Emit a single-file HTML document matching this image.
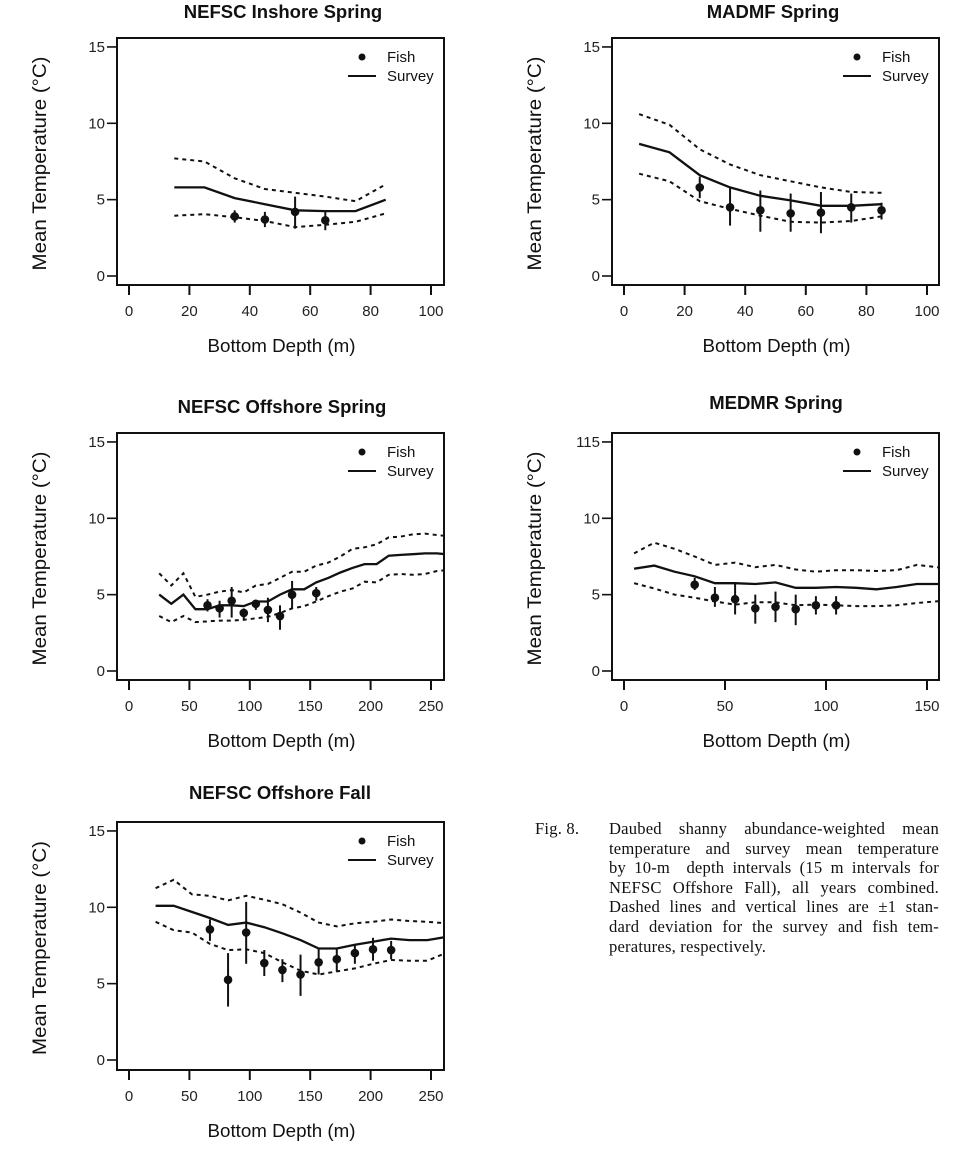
<!DOCTYPE html>
<html><head><meta charset="utf-8">
<style>
body{margin:0;background:#fff;width:975px;height:1163px;overflow:hidden;position:relative;font-family:"Liberation Sans",sans-serif}
svg{position:absolute;left:0;top:0}
.cap{position:absolute;font-family:"Liberation Serif",serif;font-size:16.6px;color:#111;line-height:19.6px;letter-spacing:0.2px}
.cap div{text-align:justify;text-align-last:justify;white-space:nowrap}
</style></head><body>
<svg id="s" width="975" height="1163" xmlns="http://www.w3.org/2000/svg"></svg>
<div class="cap" style="left:535px;top:819px">Fig. 8.</div>
<div class="cap" style="left:609px;top:819px;width:330px">
<div>Daubed shanny abundance-weighted mean</div>
<div>temperature and survey mean temperature</div>
<div>by 10-m&nbsp; depth intervals (15 m intervals for</div>
<div>NEFSC Offshore Fall), all years combined.</div>
<div>Dashed lines and vertical lines are ±1 stan-</div>
<div>dard deviation for the survey and fish tem-</div>
<div style="text-align-last:left">peratures, respectively.</div>
</div>
<script>
var svg=document.getElementById('s'),h='';
function P(c){
 var bx=c.bx,by=c.by,x0=c.x0,xs=c.xs,y0=c.y0,ys=c.ys;
 function X(v){return x0+v*xs} function Y(v){return y0-v*ys}
 h+='<rect x="'+bx[0]+'" y="'+by[0]+'" width="'+(bx[1]-bx[0])+'" height="'+(by[1]-by[0])+'" fill="none" stroke="#111" stroke-width="2"/>';
 h+='<text x="'+c.tx+'" y="'+c.ty+'" font-size="18.5" font-weight="bold" text-anchor="middle" fill="#111">'+c.title+'</text>';
 c.xt.forEach(function(t){var x=X(t);h+='<line x1="'+x+'" y1="'+by[1]+'" x2="'+x+'" y2="'+(by[1]+10)+'" stroke="#111" stroke-width="2"/><text x="'+x+'" y="'+(by[1]+31)+'" font-size="15" text-anchor="middle" fill="#222">'+t+'</text>'});
 [0,5,10,15].forEach(function(t,i){var y=Y(t);h+='<line x1="'+(bx[0]-10)+'" y1="'+y+'" x2="'+bx[0]+'" y2="'+y+'" stroke="#111" stroke-width="1.6"/><text x="'+(bx[0]-12)+'" y="'+(y+5)+'" font-size="15" text-anchor="end" fill="#222">'+(i==3&&c.y115?'115':t)+'</text>'});
 var my=(by[0]+by[1])/2;
 h+='<text transform="translate('+(bx[0]-71)+','+(my+2)+') rotate(-90)" font-size="19" text-anchor="middle" fill="#111" textLength="214" lengthAdjust="spacingAndGlyphs">Mean Temperature (°C)</text>';
 h+='<text x="'+((bx[0]+bx[1])/2+1)+'" y="'+(by[1]+67)+'" font-size="18.5" text-anchor="middle" fill="#111" textLength="148" lengthAdjust="spacingAndGlyphs">Bottom Depth (m)</text>';
 h+='<defs><clipPath id="c'+c.id+'"><rect x="'+bx[0]+'" y="'+by[0]+'" width="'+(bx[1]-bx[0])+'" height="'+(by[1]-by[0])+'"/></clipPath></defs><g clip-path="url(#c'+c.id+')">';
 function pl(a,st){var p=[];for(var i=0;i<a.length;i+=2)p.push(X(a[i]).toFixed(1)+','+Y(a[i+1]).toFixed(1));h+='<polyline points="'+p.join(' ')+'" fill="none" stroke="#111" '+st+'/>'}
 pl(c.s,'stroke-width="2.3"');pl(c.u,'stroke-width="2" stroke-dasharray="4 4"');pl(c.l,'stroke-width="2" stroke-dasharray="4 4"');
 c.f.forEach(function(f){var x=X(f[0]);h+='<line x1="'+x+'" y1="'+Y(f[2])+'" x2="'+x+'" y2="'+Y(f[3])+'" stroke="#111" stroke-width="2"/><circle cx="'+x+'" cy="'+Y(f[1])+'" r="4.3" fill="#111"/>'});
 h+='</g>';
 var lx=bx[1]-82,ly=by[0]+19;
 h+='<circle cx="'+lx+'" cy="'+ly+'" r="3.5" fill="#111"/><text x="'+(lx+25)+'" y="'+(ly+5)+'" font-size="15" fill="#111">Fish</text>';
 h+='<line x1="'+(lx-14)+'" y1="'+(ly+19)+'" x2="'+(lx+14)+'" y2="'+(ly+19)+'" stroke="#111" stroke-width="2"/><text x="'+(lx+25)+'" y="'+(ly+24)+'" font-size="15" fill="#111">Survey</text>';
}
P({id:1,bx:[117,444],by:[38,285],x0:129,xs:3.02,y0:276,ys:15.27,xt:[0,20,40,60,80,100],title:'NEFSC Inshore Spring',tx:283,ty:18,
 s:[15,5.8,25,5.8,35,5.1,45,4.7,55,4.3,65,4.25,75,4.25,85,5.0],
 u:[15,7.7,25,7.5,35,6.4,45,5.7,55,5.45,65,5.2,75,4.9,85,6.0],
 l:[15,3.95,25,4.05,35,3.85,45,3.6,55,3.2,65,3.35,75,3.55,85,4.1],
 f:[[35,3.9,3.5,4.3],[45,3.7,3.2,4.2],[55,4.2,3.1,5.2],[65,3.65,3.0,4.2]]});
P({id:2,bx:[612,939],by:[38,285],x0:624,xs:3.03,y0:276,ys:15.27,xt:[0,20,40,60,80,100],title:'MADMF Spring',tx:773,ty:18,
 s:[5,8.65,15,8.1,25,6.6,35,5.8,45,5.25,55,4.95,65,4.6,75,4.6,85,4.7],
 u:[5,10.6,15,9.9,25,8.3,35,7.3,45,6.6,55,6.2,65,5.8,75,5.5,85,5.45],
 l:[5,6.7,15,6.2,25,4.9,35,4.4,45,3.95,55,3.55,65,3.5,75,3.6,85,3.9],
 f:[[25,5.8,5.1,6.5],[35,4.5,3.3,5.8],[45,4.3,2.9,5.6],[55,4.1,2.9,5.4],[65,4.15,2.8,5.5],[75,4.5,3.5,5.4],[85,4.3,3.7,4.8]]});
P({id:3,bx:[117,444],by:[433,680],x0:129,xs:1.208,y0:671,ys:15.27,xt:[0,50,100,150,200,250],title:'NEFSC Offshore Spring',tx:282,ty:413,
 s:[25,5.0,35,4.4,45,5.0,55,4.05,65,4.05,75,4.3,85,4.3,95,4.25,105,4.55,115,4.55,125,5.0,135,5.35,145,5.35,155,5.8,165,6.1,175,6.45,185,6.75,195,7.0,205,7.0,215,7.55,225,7.6,235,7.65,245,7.7,255,7.7,262,7.65],
 u:[25,6.4,35,5.6,45,6.4,55,4.85,65,5.0,75,5.2,85,5.3,95,5.15,105,5.6,115,5.7,125,6.1,135,6.5,145,6.5,155,6.9,165,7.1,175,7.5,185,8.0,195,8.1,205,8.3,215,8.75,225,8.8,235,8.95,245,9.0,255,8.9,262,8.85],
 l:[25,3.6,35,3.2,45,3.6,55,3.2,65,3.25,75,3.3,85,3.3,95,3.35,105,3.45,115,3.55,125,3.8,135,4.1,145,4.25,155,4.55,165,4.9,175,5.2,185,5.4,195,5.85,205,5.8,215,6.3,225,6.35,235,6.3,245,6.35,255,6.55,262,6.6],
 f:[[65,4.3,3.9,4.7],[75,4.1,3.5,4.6],[85,4.6,3.5,5.5],[95,3.8,3.4,4.1],[105,4.4,4.0,4.6],[115,4.0,3.2,4.8],[125,3.6,2.7,4.3],[135,5.0,4.1,5.9],[155,5.1,4.6,5.5]]});
P({id:4,bx:[612,939],by:[433,680],x0:624,xs:2.02,y0:671,ys:15.27,xt:[0,50,100,150],title:'MEDMR Spring',tx:776,ty:409,y115:1,
 s:[5,6.7,15,6.9,25,6.5,35,6.2,45,5.75,55,5.75,65,5.7,75,5.8,85,5.45,95,5.45,105,5.5,115,5.45,125,5.35,135,5.5,145,5.7,158,5.7],
 u:[5,7.7,15,8.4,25,8.0,35,7.5,45,6.95,55,7.1,65,6.8,75,6.95,85,6.65,95,6.5,105,6.6,115,6.6,125,6.55,135,6.6,145,6.95,158,6.75],
 l:[5,5.75,15,5.4,25,5.0,35,4.8,45,4.55,55,4.35,65,4.5,75,4.5,85,4.3,95,4.35,105,4.3,115,4.25,125,4.25,135,4.3,145,4.45,158,4.6],
 f:[[35,5.65,5.3,6.1],[45,4.8,4.2,5.5],[55,4.7,3.7,5.7],[65,4.1,3.1,5.0],[75,4.2,3.2,5.2],[85,4.05,3.0,5.0],[95,4.3,3.7,4.9],[105,4.3,3.7,4.9]]});
P({id:5,bx:[117,444],by:[822,1070],x0:129,xs:1.208,y0:1060,ys:15.27,xt:[0,50,100,150,200,250],title:'NEFSC Offshore Fall',tx:280,ty:799,
 s:[22,10.1,37,10.1,52,9.7,67,9.3,82,8.85,97,9.0,112,8.7,127,8.3,142,7.85,157,7.3,172,7.3,187,7.55,202,7.75,217,7.95,232,7.85,247,7.85,262,8.05],
 u:[22,11.25,37,11.8,52,10.85,67,10.75,82,10.45,97,10.75,112,10.5,127,10.2,142,9.65,157,9.0,172,8.75,187,8.95,202,9.05,217,9.2,232,9.1,247,9.05,262,8.95],
 l:[22,9.05,37,8.5,52,8.35,67,7.6,82,7.2,97,7.25,112,7.0,127,6.4,142,5.85,157,5.6,172,5.8,187,6.0,202,6.3,217,6.55,232,6.5,247,6.5,262,7.0],
 f:[[67,8.55,7.8,9.2],[82,5.25,3.5,7.0],[97,8.35,6.3,10.35],[112,6.35,5.5,7.2],[127,5.9,5.1,6.6],[142,5.6,4.2,6.9],[157,6.4,5.6,7.25],[172,6.6,5.8,7.3],[187,7.0,6.3,7.5],[202,7.25,6.5,8.0],[217,7.2,6.6,7.8]]});
svg.innerHTML=h;
</script>
</body></html>
